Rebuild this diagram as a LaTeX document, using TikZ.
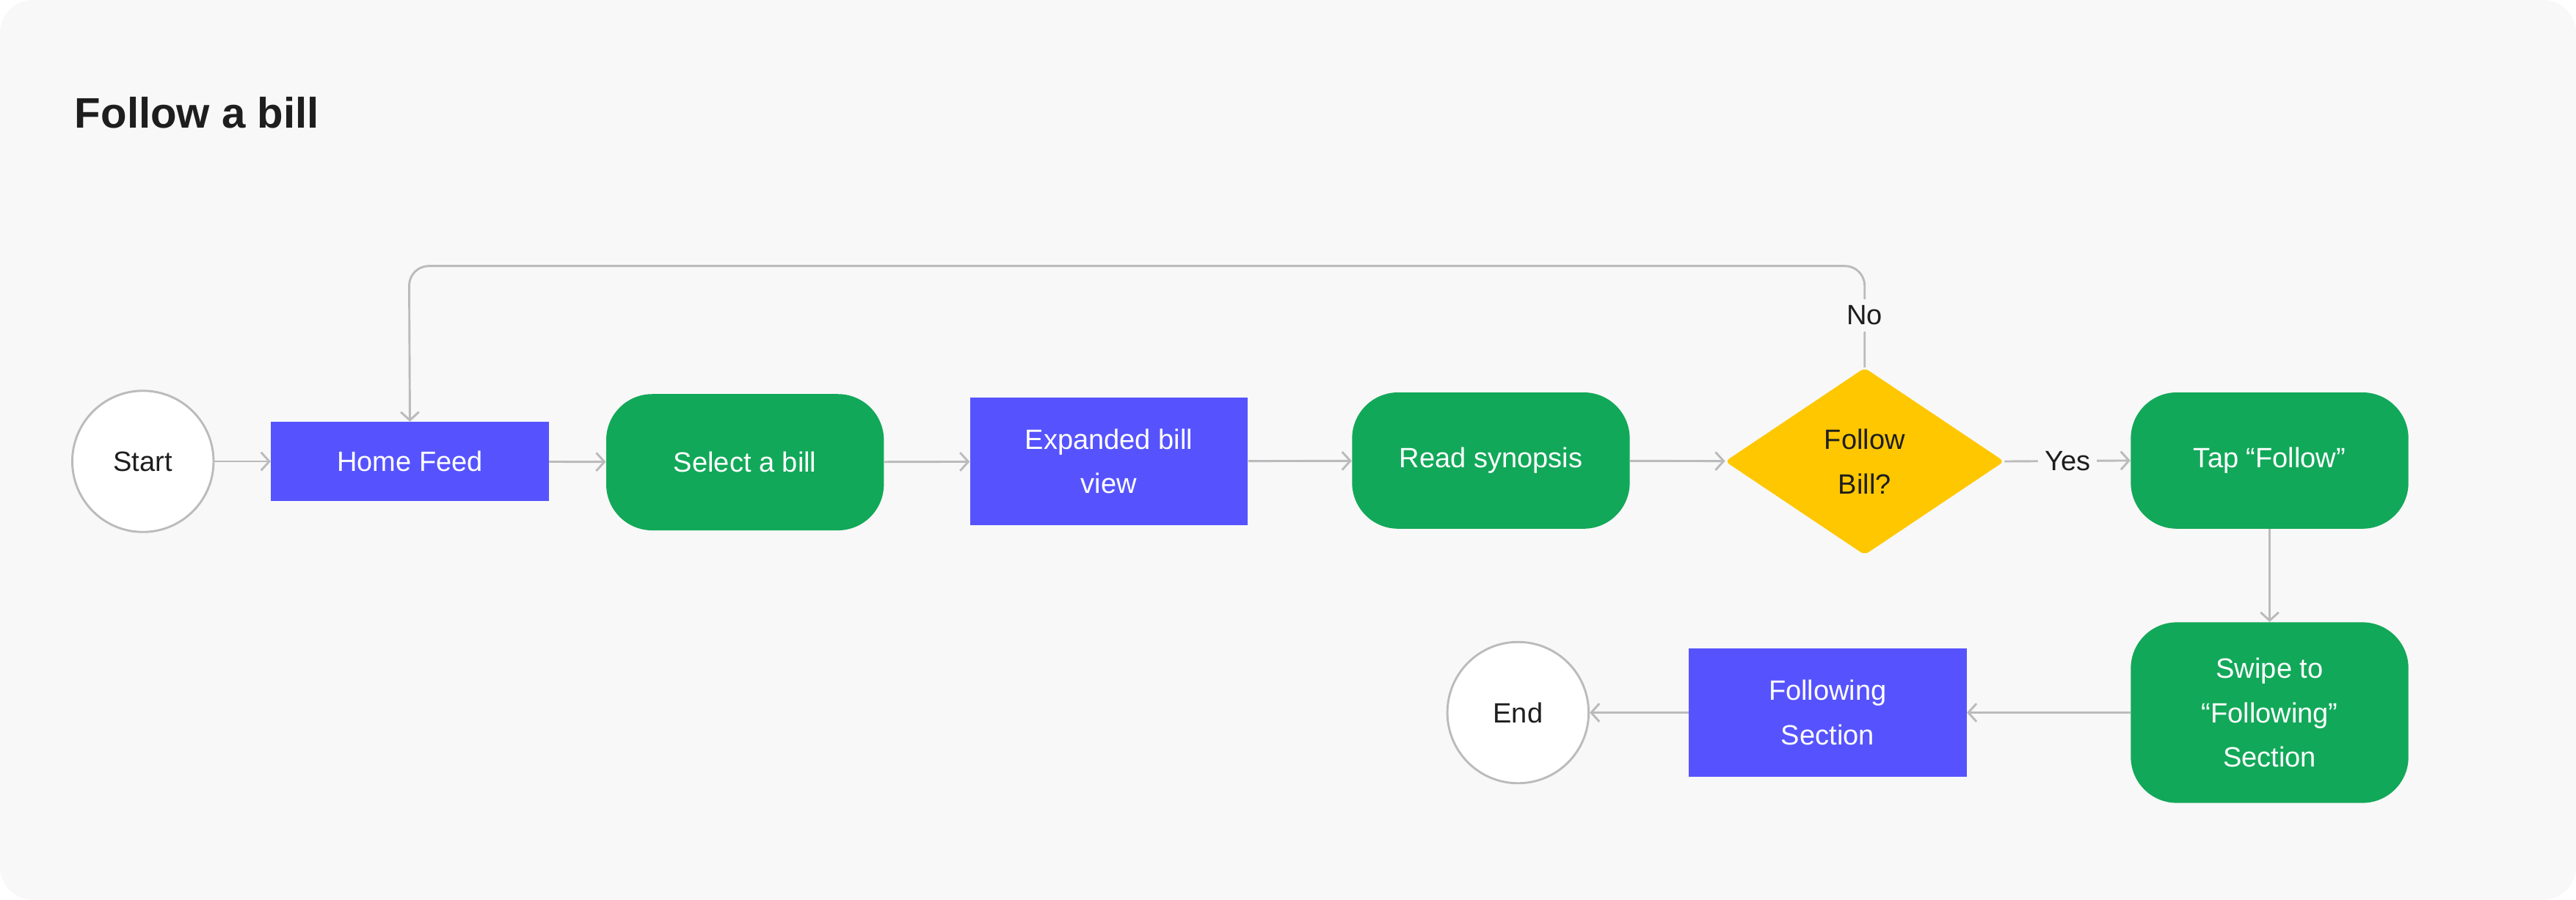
\documentclass[tikz,border=0pt]{standalone}
\usepackage{fontspec}
\setmainfont{Liberation Sans}
\usetikzlibrary{arrows.meta,shapes.geometric}
\definecolor{bg}{HTML}{F8F8F8}
\definecolor{blu}{HTML}{5653FE}
\definecolor{grn}{HTML}{12A859}
\definecolor{yel}{HTML}{FFC700}
\definecolor{ln}{HTML}{BBBBBB}
\definecolor{txt}{HTML}{1E1E1E}
\tikzset{
  bluebox/.style={fill=blu,text=white,minimum width=169pt,align=center,font=\fontsize{17}{27}\selectfont,inner sep=0pt},
  grnbox/.style={fill=grn,text=white,minimum width=169pt,rounded corners=28pt,align=center,font=\fontsize{17}{27}\selectfont,inner sep=0pt},
  circ/.style={circle,draw=ln,line width=1.3pt,fill=white,minimum size=86pt,font=\fontsize{17}{20}\selectfont,text=txt,inner sep=0pt},
  conn/.style={draw=ln,line width=1.3pt,-{Straight Barb[length=5pt,width=11pt,line width=1.3pt]}},
  lbl/.style={font=\fontsize{17}{20}\selectfont,text=txt,fill=bg,inner sep=4pt}
}
\begin{document}
\begin{tikzpicture}[x=1pt,y=-1pt]
\useasboundingbox (0,0) rectangle (1568,548);
\fill[white] (0,0) rectangle (1568,548);
\fill[bg,rounded corners=20pt] (0,0) rectangle (1568,548);
\node[anchor=base west,font=\fontsize{26}{30}\selectfont\bfseries,text=txt] (title) at (42,78) {Follow a bill};
\node[circ] (start) at (87,281) {Start};
\node[bluebox,minimum height=48pt] (home) at (249.5,281) {Home Feed};
\node[grnbox,minimum height=83pt] (select) at (453.5,281.5) {Select a bill};
\node[bluebox,minimum height=78pt] (exp) at (675,281) {Expanded bill\\view};
\node[grnbox,minimum height=83pt] (read) at (907.5,280.5) {Read synopsis};
\node[diamond,fill=yel,minimum width=170pt,minimum height=114pt,inner sep=0pt,rounded corners=3pt,align=center,text=txt,font=\fontsize{17}{27}\selectfont] (dec) at (1135,281) {Follow\\Bill?};
\node[grnbox,minimum height=83pt] (tap) at (1381.5,280.5) {Tap “Follow”};
\node[grnbox,minimum height=110pt] (swipe) at (1381.5,434) {Swipe to\\“Following”\\Section};
\node[bluebox,minimum height=78pt] (fsec) at (1112.5,434) {Following\\Section};
\node[circ] (end) at (924,434) {End};
\coordinate (c1) at (1135,162);
\coordinate (c2) at (249,162);
\draw[conn] (start) -- (home);
\draw[conn] (home) -- (select);
\draw[conn] (select) -- (exp);
\draw[conn] (exp) -- (read);
\draw[conn] (read) -- (dec);
\draw[conn] (dec.east) -- node[lbl] (yes) {Yes} (tap.west);
\draw[conn] (tap) -- (swipe);
\draw[conn] (swipe) -- (fsec);
\draw[conn] (fsec) -- (end);
\draw[conn,rounded corners=12pt] (dec.north) -- (c1) -- (c2) -- (home.north);
\node[lbl] (no) at (1135,192) {No};
\end{tikzpicture}
\end{document}
